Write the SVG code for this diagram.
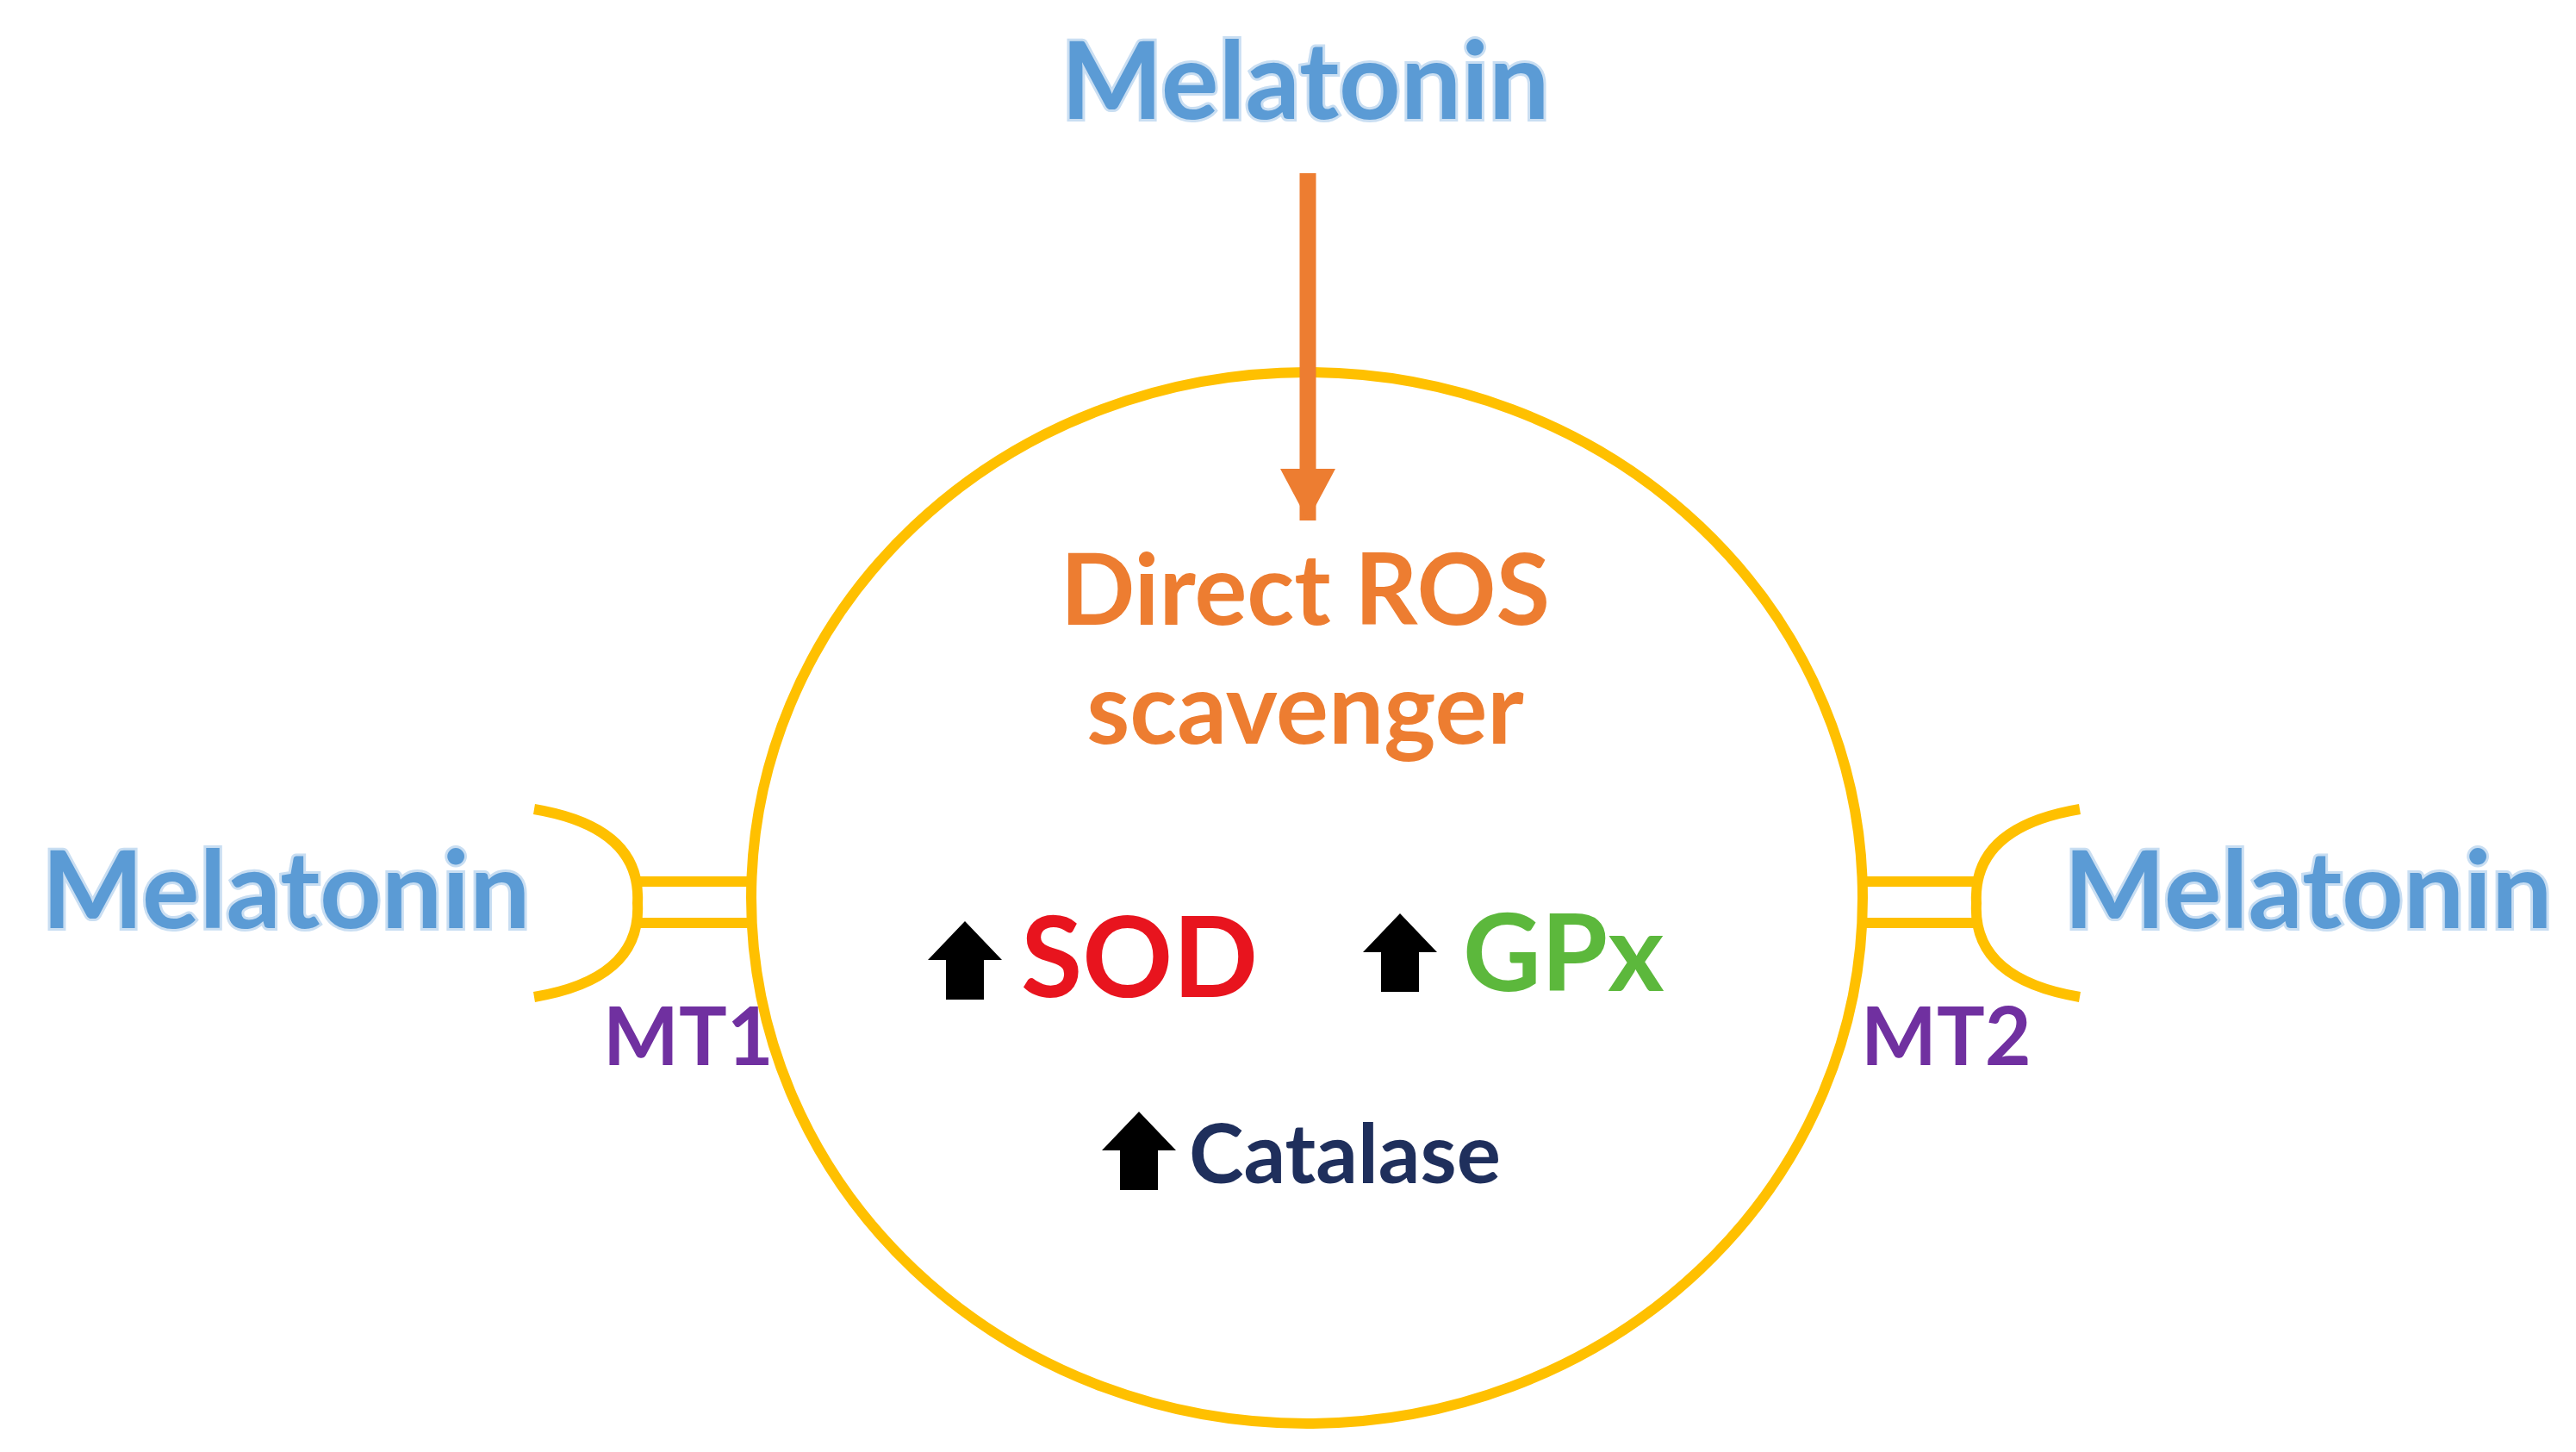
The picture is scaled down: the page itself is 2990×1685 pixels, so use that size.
<svg xmlns="http://www.w3.org/2000/svg" width="2990" height="1685" viewBox="0 0 2990 1685">
<style>
text{font-family:Lato,"Open Sans","Liberation Sans",sans-serif;font-weight:bold}
.mel{fill:#5b9bd5;stroke:#c9def2;stroke-width:6;paint-order:stroke;font-size:125px}
.rec{fill:none;stroke:#ffc000;stroke-width:12}
.mt{fill:#7030a0;font-size:93px}
.up{fill:#000}
</style>
<defs>
<marker id="oh" markerUnits="userSpaceOnUse" markerWidth="64" markerHeight="64" refX="60" refY="32" orient="auto"><path d="M0,0 L60,32 L0,64 Z" fill="#ed7d31"/></marker>
<path id="uparr" d="M0,45 L43,0 L86,45 L65,45 L65,91 L21,91 L21,45 Z"/>
</defs>
<g id="cell"><ellipse cx="1517" cy="1042" rx="645" ry="610" fill="none" stroke="#ffc000" stroke-width="12"/></g>
<g id="melatonin-top"><text class="mel" x="1515" y="138" text-anchor="middle">Melatonin</text></g>
<g id="connectors"><line x1="1518" y1="201" x2="1518" y2="604" stroke="#ed7d31" stroke-width="19" marker-end="url(#oh)"/></g>
<g id="ros"><text x="1515" y="725" text-anchor="middle" fill="#ed7d31" font-size="114">Direct ROS</text><text x="1515" y="863" text-anchor="middle" fill="#ed7d31" font-size="114">scavenger</text></g>
<g id="mt1"><path class="rec" d="M620,939 Q745,960 740,1048 Q745,1136 620,1157"/><line class="rec" x1="740" y1="1023" x2="872" y2="1023"/><line class="rec" x1="740" y1="1071" x2="872" y2="1071"/><text class="mt" x="700" y="1236">MT1</text></g>
<g id="mt2"><path class="rec" d="M2414,939 Q2289,960 2294,1048 Q2289,1136 2414,1157"/><line class="rec" x1="2162" y1="1023" x2="2294" y2="1023"/><line class="rec" x1="2162" y1="1071" x2="2294" y2="1071"/><text class="mt" x="2160" y="1236">MT2</text></g>
<g id="melatonin-left"><text class="mel" x="332" y="1077" text-anchor="middle">Melatonin</text></g>
<g id="melatonin-right"><text class="mel" x="2679" y="1077" text-anchor="middle">Melatonin</text></g>
<g id="sod"><use href="#uparr" class="up" x="1077" y="1069"/><text x="1185" y="1157" fill="#e8141e" font-size="130">SOD</text></g>
<g id="gpx"><use href="#uparr" class="up" x="1582" y="1060"/><text x="1698" y="1150" fill="#5cb83c" font-size="125">GPx</text></g>
<g id="catalase"><use href="#uparr" class="up" x="1279" y="1290"/><text x="1380" y="1373" fill="#1f2f5c" font-size="96">Catalase</text></g>
</svg>
